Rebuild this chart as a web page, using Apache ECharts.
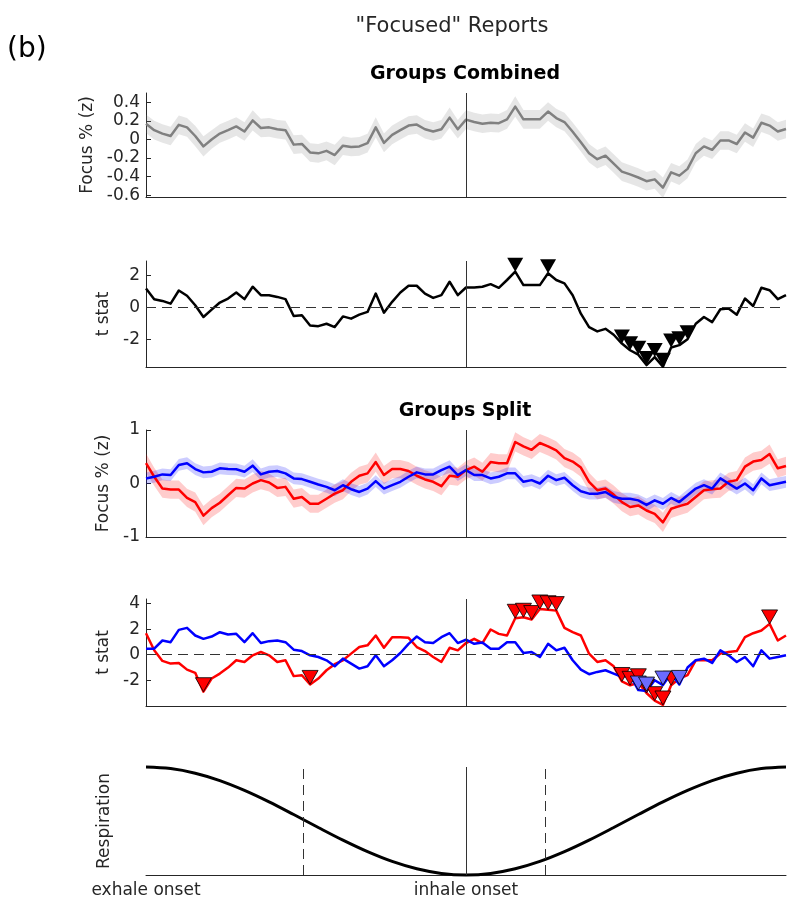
<!DOCTYPE html>
<html>
<head>
<meta charset="utf-8">
<script src="https://cdn.jsdelivr.net/npm/echarts@6/dist/echarts.min.js"></script>
<style>
  html, body { margin: 0; padding: 0; background: #fff; }
  #chart { width: 790px; height: 900px; }
</style>
</head>
<body>
<div id="chart"></div>
<script>
// Phase bins (exhale onset at 0, inhale onset at 39)
const phaseBins = Array.from({ length: 79 }, (_, i) => i);
const inhaleBin = 39;
const phaseLabels = ['exhale onset', 'inhale onset'];
const phaseLabelBins = [0, 39];
const respMarks = [19.2, 48.7];

// Groups combined: mean focus (z) and its error band
const focusAll = [0.168, 0.10, 0.063, 0.037, 0.157, 0.13, 0.037, -0.075, 0, 0.063,
  0.10, 0.14, 0.086, 0.205, 0.123, 0.13, 0.11, 0.10, -0.056, -0.049,
  -0.14, -0.15, -0.123, -0.168, -0.067, -0.082, -0.075, -0.04, 0.13, -0.037,
  0.049, 0.10, 0.149, 0.16, 0.11, 0.086, 0.11, 0.235, 0.11, 0.213,
  0.187, 0.168, 0.179, 0.175, 0.216, 0.354, 0.216, 0.216, 0.216, 0.30,
  0.23, 0.187, 0.082, -0.03, -0.149, -0.213, -0.175, -0.26, -0.347, -0.377,
  -0.41, -0.45, -0.43, -0.52, -0.354, -0.39, -0.317, -0.149, -0.075, -0.112,
  -0.011, -0.011, -0.049, 0.075, 0.019, 0.179, 0.149, 0.086, 0.112];
const semAll = [0.10, 0.10, 0.10, 0.10, 0.10, 0.10, 0.11, 0.11, 0.10, 0.10,
  0.10, 0.10, 0.10, 0.11, 0.10, 0.10, 0.10, 0.10, 0.10, 0.10,
  0.10, 0.10, 0.10, 0.11, 0.10, 0.10, 0.10, 0.10, 0.11, 0.10,
  0.10, 0.10, 0.10, 0.10, 0.10, 0.10, 0.10, 0.11, 0.10, 0.10,
  0.10, 0.10, 0.10, 0.10, 0.10, 0.11, 0.10, 0.10, 0.10, 0.10,
  0.10, 0.10, 0.10, 0.10, 0.10, 0.10, 0.10, 0.10, 0.10, 0.10,
  0.10, 0.10, 0.10, 0.11, 0.10, 0.10, 0.10, 0.10, 0.10, 0.10,
  0.10, 0.10, 0.10, 0.10, 0.10, 0.10, 0.10, 0.10, 0.10];
const tAll = [1.2, 0.53, 0.42, 0.25, 1.07, 0.74, 0.15, -0.59, -0.13, 0.32,
  0.57, 0.95, 0.53, 1.31, 0.78, 0.78, 0.67, 0.53, -0.53, -0.48,
  -1.12, -1.16, -1.01, -1.22, -0.55, -0.69, -0.44, -0.27, 0.88, -0.32,
  0.36, 0.95, 1.37, 1.37, 0.88, 0.61, 0.78, 1.62, 0.78, 1.26,
  1.26, 1.31, 1.47, 1.24, 1.73, 2.25, 1.41, 1.41, 1.41, 2.15,
  1.73, 1.52, 0.78, -0.38, -1.22, -1.49, -1.33, -1.7, -2.25, -2.67,
  -2.95, -3.6, -3.1, -3.7, -2.5, -2.35, -1.98, -1.01, -0.59, -0.91,
  -0.1, -0.06, -0.44, 0.57, 0.1, 1.24, 1.09, 0.53, 0.78];
const sigAll = [45, 49, 58, 59, 60, 61, 62, 63, 64, 65, 66];

// Groups split: red group and blue group
const focusRed = [0.379, 0.126, -0.095, -0.114, -0.114, -0.27, -0.347, -0.60, -0.46, -0.36,
  -0.22, -0.082, -0.095, 0, 0.063, 0.019, -0.082, -0.063, -0.284, -0.252,
  -0.379, -0.379, -0.284, -0.189, -0.126, 0.032, 0.145, 0.189, 0.40, 0.158,
  0.27, 0.27, 0.233, 0.145, 0.076, 0.032, -0.05, 0.145, 0.126, 0.25,
  0.315, 0.22, 0.40, 0.379, 0.379, 0.776, 0.694, 0.63, 0.757, 0.694,
  0.618, 0.473, 0.41, 0.297, 0.032, -0.126, -0.095, -0.208, -0.347, -0.44,
  -0.41, -0.505, -0.568, -0.726, -0.473, -0.423, -0.379, -0.252, -0.126, -0.107,
  -0.095, 0.032, 0.063, 0.315, 0.41, 0.44, 0.55, 0.284, 0.328];
const semRed = [0.18, 0.17, 0.17, 0.17, 0.17, 0.17, 0.18, 0.18, 0.17, 0.17,
  0.17, 0.17, 0.17, 0.17, 0.17, 0.17, 0.17, 0.17, 0.17, 0.17,
  0.17, 0.17, 0.17, 0.17, 0.17, 0.17, 0.17, 0.17, 0.18, 0.17,
  0.17, 0.17, 0.17, 0.17, 0.17, 0.17, 0.17, 0.17, 0.17, 0.17,
  0.17, 0.17, 0.17, 0.17, 0.17, 0.18, 0.17, 0.17, 0.17, 0.17,
  0.17, 0.17, 0.17, 0.17, 0.17, 0.17, 0.17, 0.17, 0.17, 0.17,
  0.17, 0.17, 0.17, 0.18, 0.17, 0.17, 0.17, 0.17, 0.17, 0.17,
  0.17, 0.17, 0.17, 0.17, 0.17, 0.17, 0.18, 0.17, 0.17];
const focusBlue = [0.095, 0.126, 0.17, 0.158, 0.347, 0.379, 0.27, 0.208, 0.22, 0.284,
  0.27, 0.265, 0.22, 0.334, 0.17, 0.22, 0.233, 0.19, 0.095, 0.082,
  0.032, -0.019, -0.063, -0.126, -0.032, -0.107, -0.158, -0.095, 0.044, -0.095,
  -0.032, 0.032, 0.126, 0.208, 0.17, 0.17, 0.25, 0.315, 0.158, 0.25,
  0.158, 0.158, 0.095, 0.126, 0.19, 0.19, 0.032, 0.063, 0, 0.145,
  0.063, 0.107, -0.032, -0.145, -0.19, -0.19, -0.158, -0.252, -0.284, -0.284,
  -0.315, -0.40, -0.315, -0.379, -0.27, -0.347, -0.22, -0.095, -0.032, -0.095,
  0.095, 0, -0.095, 0, -0.126, 0.095, -0.032, 0, 0.032];
const semBlue = [0.11, 0.11, 0.11, 0.11, 0.11, 0.11, 0.11, 0.11, 0.11, 0.11,
  0.11, 0.11, 0.11, 0.12, 0.11, 0.11, 0.11, 0.11, 0.11, 0.11,
  0.11, 0.11, 0.11, 0.11, 0.11, 0.11, 0.11, 0.11, 0.11, 0.11,
  0.11, 0.11, 0.11, 0.11, 0.11, 0.11, 0.11, 0.12, 0.11, 0.11,
  0.11, 0.11, 0.11, 0.11, 0.11, 0.11, 0.11, 0.11, 0.11, 0.11,
  0.11, 0.11, 0.11, 0.11, 0.11, 0.11, 0.11, 0.11, 0.11, 0.11,
  0.11, 0.12, 0.11, 0.11, 0.11, 0.11, 0.11, 0.11, 0.11, 0.11,
  0.11, 0.11, 0.11, 0.11, 0.11, 0.11, 0.11, 0.11, 0.11];
const tRed = [1.68, 0.34, -0.49, -0.70, -0.65, -1.17, -1.42, -2.9, -1.87, -1.48,
  -1.01, -0.44, -0.57, -0.05, 0.21, -0.05, -0.57, -0.44, -1.68, -1.61,
  -2.33, -1.87, -1.22, -0.75, -0.44, 0.08, 0.6, 0.73, 1.5, 0.54,
  1.37, 1.37, 1.32, 0.6, 0.28, -0.18, -0.57, 0.54, 0.34, 0.91,
  1.24, 0.91, 1.97, 1.63, 1.5, 2.85, 2.93, 2.75, 3.58, 3.52,
  3.45, 2.1, 1.76, 1.5, 0.08, -0.57, -0.44, -0.91, -2.1, -2.4,
  -2.2, -3.0, -3.6, -3.94, -2.4, -1.87, -1.6, -0.44, -0.44, -0.44,
  0.08, 0.21, 0.28, 1.37, 1.68, 1.89, 2.41, 1.11, 1.5];
const tBlue = [0.47, 0.47, 1.11, 0.98, 1.94, 2.1, 1.5, 1.24, 1.42, 1.76,
  1.58, 1.63, 0.98, 1.68, 0.91, 1.06, 1.11, 0.98, 0.39, 0.28,
  -0.05, -0.18, -0.44, -0.91, -0.31, -0.70, -1.09, -0.91, -0.05, -0.91,
  -0.44, 0.13, 0.85, 1.42, 0.98, 0.91, 1.37, 1.68, 0.91, 1.17,
  0.85, 0.96, 0.47, 0.47, 0.98, 0.98, 0.13, 0.21, -0.18, 0.85,
  0.34, 0.54, -0.44, -1.17, -1.53, -1.35, -1.22, -1.48, -1.74, -1.6,
  -2.77, -2.85, -2.0, -2.38, -1.48, -2.33, -1.0, -0.44, -0.31, -0.65,
  0.34, -0.05, -0.57, -0.18, -0.91, 0.34, -0.31, -0.18, -0.05];
const sigRed = [7, 20, 45, 46, 47, 48, 49, 50, 58, 59, 60, 61, 62, 63, 64, 76];
const sigBlue = [60, 61, 63, 65];

// Respiration trace (normalised), sampled every 3 bins
const respBins = [0, 3, 6, 9, 12, 15, 18, 21, 24, 27, 30, 33, 36, 39,
  42, 45, 48, 51, 54, 57, 60, 63, 66, 69, 72, 75, 78];
const respValues = [1, 0.971, 0.885, 0.749, 0.568, 0.355, 0.120, -0.121, -0.355, -0.568, -0.749, -0.885, -0.971, -1,
  -0.971, -0.885, -0.749, -0.568, -0.355, -0.121, 0.120, 0.355, 0.568, 0.749, 0.885, 0.971, 1];

// Tick labels
const ticksFocusAll = [-0.6, -0.4, -0.2, 0, 0.2, 0.4];
const ticksTAll = [-2, 0, 2];
const ticksFocusSplit = [-1, 0, 1];
const ticksTSplit = [-2, 0, 2, 4];

const FONT = 'DejaVu Sans';
const AX = '#262626';
const FS = 17;

const pairs = (xs, ys) => xs.map((x, i) => [x, ys[i]]);

const grids = [
  { left: 146, width: 640, top: 93, height: 104 },
  { left: 146, width: 640, top: 261, height: 106 },
  { left: 146, width: 640, top: 430, height: 107 },
  { left: 146, width: 640, top: 599, height: 107 },
  { left: 146, width: 640, top: 767, height: 108 }
];

function xAxisFor(idx, withLabels) {
  return {
    type: 'value', gridIndex: idx, min: 0, max: 78,
    axisLine: { show: true, onZero: false, lineStyle: { color: AX, width: 1 } },
    axisTick: { show: false },
    splitLine: { show: false },
    axisLabel: withLabels ? {
      show: true, customValues: phaseLabelBins, margin: 7,
      fontFamily: FONT, fontSize: FS, color: AX,
      formatter: v => phaseLabels[phaseLabelBins.indexOf(v)]
    } : { show: false }
  };
}

function yAxisFor(idx, min, max, ticks, name, gap) {
  return {
    type: 'value', gridIndex: idx, min: min, max: max,
    name: name, nameLocation: 'middle', nameGap: gap,
    nameTextStyle: { fontFamily: FONT, fontSize: FS, color: AX },
    axisLine: { show: true, onZero: false, lineStyle: { color: AX, width: 1 } },
    axisTick: { show: true, inside: true, length: 5, customValues: ticks, lineStyle: { color: AX } },
    axisLabel: { show: true, customValues: ticks, margin: 6, fontFamily: FONT, fontSize: FS, color: AX,
      formatter: v => String(v) },
    splitLine: { show: false }
  };
}

function band(idx, mean, sem, color) {
  return {
    type: 'custom', xAxisIndex: idx, yAxisIndex: idx, silent: true, z: 1,
    data: [[0, 0]],
    renderItem: (params, api) => {
      const pts = [];
      for (let i = 0; i < mean.length; i++) pts.push(api.coord([phaseBins[i], mean[i] + sem[i]]));
      for (let i = mean.length - 1; i >= 0; i--) pts.push(api.coord([phaseBins[i], mean[i] - sem[i]]));
      return { type: 'polygon', shape: { points: pts }, style: { fill: color } };
    }
  };
}

function line(idx, ys, color, width, marks) {
  const s = {
    type: 'line', xAxisIndex: idx, yAxisIndex: idx, data: pairs(phaseBins, ys),
    showSymbol: false, symbol: 'none', silent: true, z: 2,
    lineStyle: { color: color, width: width, join: 'round' }
  };
  if (marks) s.markLine = marks;
  return s;
}

function refLines(items) {
  return { silent: true, symbol: 'none', label: { show: false }, animation: false, data: items };
}
const inhaleMark = { xAxis: inhaleBin, lineStyle: { color: '#333', width: 1, type: 'solid' } };
const zeroMark = { yAxis: 0, lineStyle: { color: '#333', width: 1, type: [10, 6] } };

function sigMarkers(idx, ys, sig, fill, border) {
  return {
    type: 'scatter', xAxisIndex: idx, yAxisIndex: idx, silent: true, z: 3, clip: false,
    data: sig.map(i => [phaseBins[i], ys[i]]),
    symbol: 'path://M0,0 L16,0 L8,14 Z', symbolSize: [16, 14], symbolOffset: [0, '-50%'],
    itemStyle: { color: fill, borderColor: border, borderWidth: border ? 0.8 : 0, opacity: 1 }
  };
}

const chart = echarts.init(document.getElementById('chart'), null, { renderer: 'canvas' });
chart.setOption({
  animation: false,
  backgroundColor: '#fff',
  grid: grids,
  xAxis: [xAxisFor(0), xAxisFor(1), xAxisFor(2), xAxisFor(3), xAxisFor(4, true)],
  yAxis: [
    yAxisFor(0, -0.62, 0.5, ticksFocusAll, 'Focus % (z)', 47),
    yAxisFor(1, -3.72, 2.92, ticksTAll, 't stat', 31),
    yAxisFor(2, -1, 1, ticksFocusSplit, 'Focus % (z)', 31),
    yAxisFor(3, -4.02, 4.36, ticksTSplit, 't stat', 31),
    {
      type: 'value', gridIndex: 4, min: -1, max: 1,
      name: 'Respiration', nameLocation: 'middle', nameGap: 33,
      nameTextStyle: { fontFamily: FONT, fontSize: FS, color: AX },
      axisLine: { show: false }, axisTick: { show: false }, axisLabel: { show: false },
      splitLine: { show: false }
    }
  ],
  graphic: [
    { type: 'text', x: 452, y: 16, style: { text: '"Focused" Reports', font: '21px "DejaVu Sans"', fill: AX, textAlign: 'center', textVerticalAlign: 'top' } },
    { type: 'text', x: 7, y: 36, style: { text: '(b)', font: '28px "DejaVu Sans"', fill: '#000', textAlign: 'left', textVerticalAlign: 'top' } },
    { type: 'text', x: 465, y: 65, style: { text: 'Groups Combined', font: 'bold 19px "DejaVu Sans"', fill: '#000', textAlign: 'center', textVerticalAlign: 'top' } },
    { type: 'text', x: 465, y: 402, style: { text: 'Groups Split', font: 'bold 19px "DejaVu Sans"', fill: '#000', textAlign: 'center', textVerticalAlign: 'top' } }
  ],
  series: [
    // Groups combined
    band(0, focusAll, semAll, 'rgba(128,128,128,0.2)'),
    line(0, focusAll, '#808080', 2.5, refLines([inhaleMark])),
    line(1, tAll, '#000', 2.5, refLines([inhaleMark, zeroMark])),
    sigMarkers(1, tAll, sigAll, '#000', null),
    // Groups split
    band(2, focusRed, semRed, 'rgba(255,0,0,0.2)'),
    band(2, focusBlue, semBlue, 'rgba(0,0,255,0.2)'),
    line(2, focusRed, '#ff0000', 2.5, refLines([inhaleMark])),
    line(2, focusBlue, '#0000ff', 2.5),
    line(3, tRed, '#ff0000', 2.5, refLines([inhaleMark, zeroMark])),
    line(3, tBlue, '#0000ff', 2.5),
    sigMarkers(3, tRed, sigRed, '#ff0000', '#000'),
    sigMarkers(3, tBlue, sigBlue, '#6b6bff', '#000'),
    // Respiration
    {
      type: 'line', xAxisIndex: 4, yAxisIndex: 4, data: pairs(respBins, respValues),
      smooth: 0.35, showSymbol: false, symbol: 'none', silent: true, z: 2, clip: false,
      lineStyle: { color: '#000', width: 3 },
      markLine: refLines([
        inhaleMark,
        { xAxis: respMarks[0], lineStyle: { color: '#333', width: 1, type: [10, 6] } },
        { xAxis: respMarks[1], lineStyle: { color: '#333', width: 1, type: [10, 6] } }
      ])
    }
  ]
});
</script>
</body>
</html>
